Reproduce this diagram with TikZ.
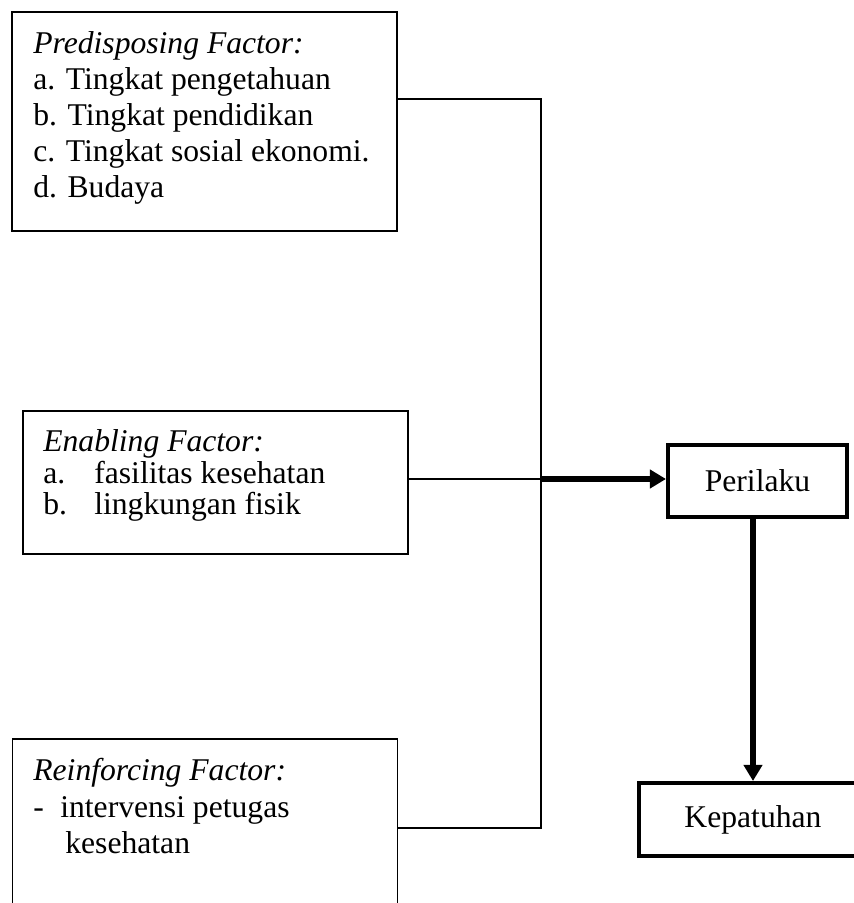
\documentclass[tikz,border=0pt]{standalone}
\usepackage{fontspec}
\setmainfont{Liberation Serif}
\usetikzlibrary{positioning,arrows.meta}
\tikzset{
	factorbox/.style={rectangle, draw=black, line width=1.1pt, minimum width=7.7cm, inner sep=0pt},
	factortext/.style={anchor=north west, align=left, inner sep=0pt, font=\fontsize{18}{20.5}\selectfont},
	resultnode/.style={rectangle, draw=black, line width=2.3pt, font=\fontsize{18}{20.5}\selectfont},
	thinline/.style={line width=1.1pt},
	boldarrow/.style={line width=2.9pt, -{Triangle[length=0.32cm,width=0.36cm]}}
}

\begin{document}
\begin{tikzpicture}
		\clip (0,0) rectangle (17.08,-18.06);
		% factor boxes
		\node[factorbox, minimum height=4.38cm] at (4.09,-2.43) (pred) {};
		\node[factortext] at (0.66,-0.63) (predtext) {\textit{Predisposing Factor:}\\ a. Tingkat pengetahuan\\ b. Tingkat pendidikan\\ c. Tingkat sosial ekonomi.\\ d. Budaya};
		\node[factorbox, minimum height=2.86cm] at (4.31,-9.65) (enab) {};
		\node[factortext, font=\fontsize{18}{17.9}\selectfont] at (0.86,-8.59) (enabtext) {\textit{Enabling Factor:}\\ \makebox[1.02cm][l]{a.}fasilitas kesehatan\\ \makebox[1.02cm][l]{b.}lingkungan fisik};
		\node[factorbox, minimum height=4.22cm] at (4.1,-16.89) (reinf) {};
		\node[factortext, font=\fontsize{18}{21}\selectfont] at (0.66,-15.15) (reinftext) {\textit{Reinforcing Factor:}\\ \makebox[0.54cm][l]{-}intervensi petugas\\ \hspace*{0.64cm}kesehatan};
		% outcome boxes
		\node[resultnode, minimum width=3.58cm, minimum height=1.44cm] at (15.15,-9.62) (peri) {Perilaku};
		\node[resultnode, minimum width=4.56cm, minimum height=1.46cm] at (15.06,-16.39) (kepa) {Kepatuhan};
		% connectors
		\coordinate (bustop) at (10.82,-1.98);
		\coordinate (busmid) at (10.82,-9.58);
		\coordinate (busbot) at (10.82,-16.56);
		\draw[thinline] (pred.east |- bustop) -- (bustop) -- (busbot) -- (reinf.east |- busbot);
		\draw[thinline] (enab.east |- busmid) -- (busmid);
		\draw[boldarrow] (busmid) -- (peri.west |- busmid);
		\draw[boldarrow] (peri.south -| kepa.north) -- (kepa.north);
	\end{tikzpicture}
\end{document}
